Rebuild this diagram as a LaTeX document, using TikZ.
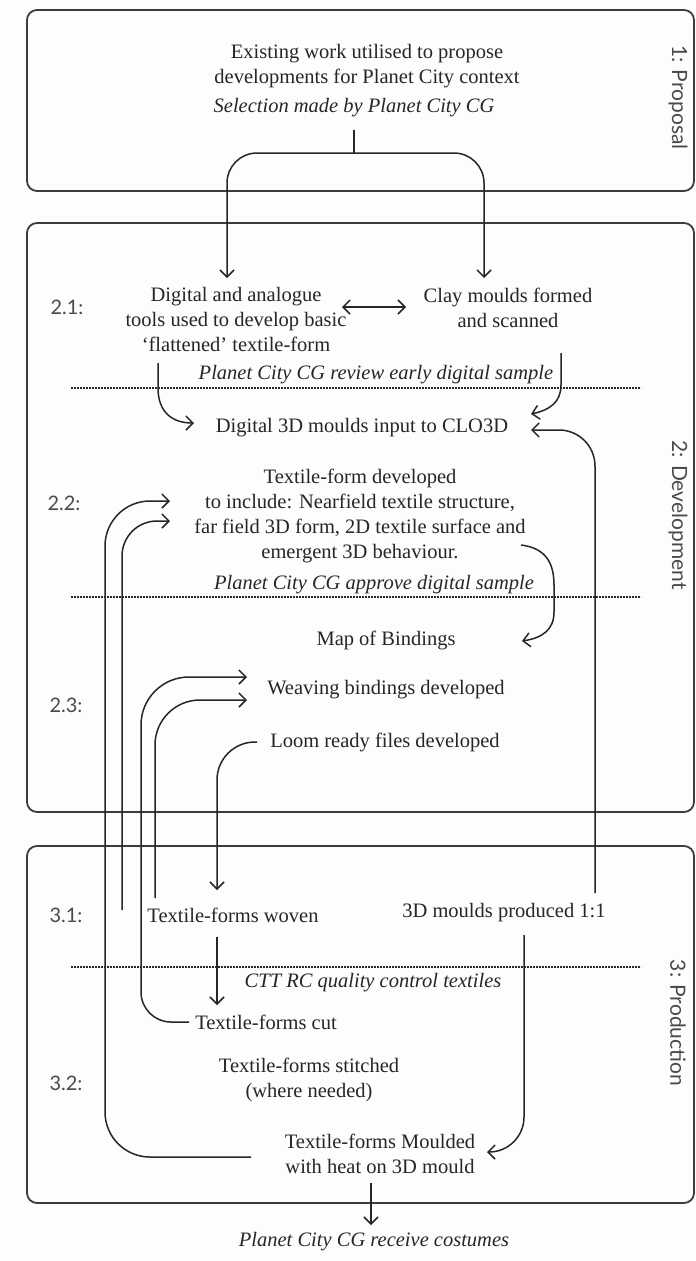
\documentclass[tikz,border=0pt]{standalone}
\usepackage{fontspec}
\setmainfont{Liberation Serif}
\newfontfamily\sidefont{Lato}
\usetikzlibrary{arrows.meta,calc}
\definecolor{ink}{HTML}{262626}
\definecolor{soft}{HTML}{4A4A4A}
\definecolor{paper}{HTML}{FDFDFB}
\begin{document}
\begin{tikzpicture}[x=1pt,y=-1pt,
  txt/.style={font=\fontsize{20.5}{25}\selectfont, align=center, inner sep=0pt, text=ink},
  itl/.style={txt, font=\fontsize{20.5}{25}\selectfont\itshape},
  stage/.style={font=\sidefont\fontsize{20}{24}\selectfont, text=soft, inner sep=0pt},
  side/.style={font=\sidefont\fontsize{21}{24}\selectfont, text=soft, inner sep=0pt, rotate=-90},
  panel/.style={draw=ink!90, line width=1.8pt, rounded corners=10pt},
  conn/.style={draw=ink, line width=1.5pt},
  tip/.tip={Straight Barb[length=7pt,width=14pt]},
  arr/.style={conn, -tip},
  dbl/.style={conn, tip-tip},
  dots/.style={draw=ink, line width=1.1pt, dash pattern=on 1.6pt off 1.4pt}
]
% page
\path[fill=paper] (0,0) rectangle (696,1261);
\useasboundingbox (0,0) rectangle (696,1261);

% panels
\draw[panel] (27,10) rectangle (694,191);
\draw[panel] (27,223) rectangle (694,812);
\draw[panel] (27,846) rectangle (694,1203);

% side labels
\node[side] (lab1) at (678,97.5) {1: Proposal};
\node[side] (lab2) at (678,515) {2: Development};
\node[side] (lab3) at (678,1023) {3: Production};

% stage labels
\node[stage] (s21) at (67,307) {2.1:};
\node[stage] (s22) at (64,503) {2.2:};
\node[stage] (s23) at (66,705) {2.3:};
\node[stage] (s31) at (66,915) {3.1:};
\node[stage] (s32) at (66,1083) {3.2:};

% stage 1
\node[txt] (exist) at (367,66.5) {Existing work utilised to propose\\developments for Planet City context};
\node[itl] (sel) at (354,108) {Selection made by Planet City CG};

% stage 2.1
\node[txt] (dig) at (236,319.5) {Digital and analogue\\tools used to develop basic\\‘flattened’ textile-form};
\node[txt] (clay) at (508,307.5) {Clay moulds formed\\and scanned};
\node[itl] (rev) at (376,375) {Planet City CG review early digital sample};
\draw[dots] (71,388) -- (641,388);
\node[txt] (clo) at (362,428) {Digital 3D moulds input to CLO3D};

% stage 2.2
\node[txt] (tf) at (360,515.5) {Textile-form developed\\to include: Nearfield textile structure,\\far field 3D form, 2D textile surface and\\emergent 3D behaviour.};
\node[itl] (app) at (374,585) {Planet City CG approve digital sample};
\draw[dots] (71,597) -- (641,597);
\node[txt] (map) at (386,640) {Map of Bindings};

% stage 2.3
\node[txt] (weave) at (386,690) {Weaving bindings developed};
\node[txt] (loom) at (385,742) {Loom ready files developed};

% stage 3.1
\node[txt] (woven) at (233,915) {Textile-forms woven};
\node[txt] (moulds) at (504,913) {3D moulds produced 1:1};
\draw[dots] (71,967) -- (641,967);
\node[itl] (ctt) at (373,983) {CTT RC quality control textiles};
\node[txt] (cut) at (266,1022) {Textile-forms cut};

% stage 3.2
\node[txt] (stitch) at (309,1080) {Textile-forms stitched\\(where needed)};
\node[txt] (mould) at (380,1153.5) {Textile-forms Moulded\\with heat on 3D mould};
\node[itl] (recv) at (374,1242) {Planet City CG receive costumes};

% connector end points
\coordinate (pSplit) at (354,153);
\coordinate (pDigIn) at (227,278);
\coordinate (pClayIn) at (484,278);
\coordinate (pDblL) at (342,307);
\coordinate (pDblR) at (406,307);
\coordinate (pDigOut) at (158,363);
\coordinate (pCloL) at (194,423);
\coordinate (pClayOut) at (561,353);
\coordinate (pCloR1) at (531,414);
\coordinate (pMouldsUp) at (595,893);
\coordinate (pCloR2) at (531,430);
\coordinate (pTfOut) at (521,545);
\coordinate (pMapIn) at (522,641);
\coordinate (pMouldOut) at (251,1157);
\coordinate (pTfIn1) at (170,501);
\coordinate (p31) at (122,910);
\coordinate (pTfIn2) at (170,521);
\coordinate (pCutOut) at (189,1022);
\coordinate (pWeaveIn1) at (247,677);
\coordinate (pWovenUp) at (155,898);
\coordinate (pWeaveIn2) at (247,700);
\coordinate (pLoomOut) at (257,742);
\coordinate (pWovenIn) at (217,890);
\coordinate (pWovenOut) at (217,937);
\coordinate (pCutIn) at (217,1005);
\coordinate (pMouldsDown) at (524,935);
\coordinate (pMouldIn) at (487,1152);
\coordinate (pMouldDown) at (371,1183);
\coordinate (pRecv) at (371,1225);

% connectors
\draw[conn] (sel.south) ++(0,12) -- (pSplit);
\draw[arr, rounded corners=30pt] (pSplit) -| (pDigIn);
\draw[arr, rounded corners=30pt] (pSplit) -| (pClayIn);
\draw[dbl] (pDblL) -- (pDblR);
\draw[arr] (pDigOut) -- (158,388) .. controls (158,412) and (172,423) .. (pCloL);
\draw[arr] (pClayOut) -- (561,385) .. controls (561,402) and (550,410) .. (pCloR1);
\draw[arr, rounded corners=36pt] (pMouldsUp) |- (pCloR2);
\draw[arr] (pTfOut) .. controls (545,548) and (554,562) .. (554,585) -- (554,612) .. controls (554,630) and (542,638) .. (pMapIn);
\draw[arr, rounded corners=45pt] (pMouldOut) -| (105,501) -- (pTfIn1);
\draw[arr, rounded corners=35pt] (p31) |- (pTfIn2);
\draw[arr] (pCutOut) [rounded corners=30pt] -| (141,800) [rounded corners=48pt] |- (pWeaveIn1);
\draw[arr, rounded corners=45pt] (pWovenUp) |- (pWeaveIn2);
\draw[arr, rounded corners=38pt] (pLoomOut) -| (pWovenIn);
\draw[arr] (pWovenOut) -- (pCutIn);
\draw[arr, rounded corners=35pt] (pMouldsDown) |- (pMouldIn);
\draw[arr] (pMouldDown) -- (pRecv);
\end{tikzpicture}
\end{document}
